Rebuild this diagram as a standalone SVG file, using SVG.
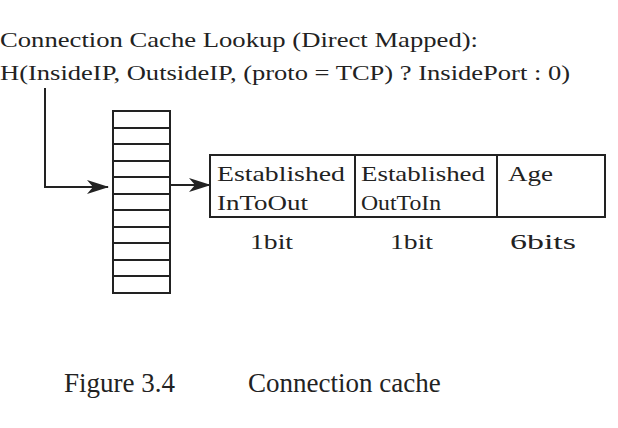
<svg xmlns="http://www.w3.org/2000/svg" width="618" height="428" viewBox="0 0 618 428">
<defs><marker id="ah" markerWidth="22" markerHeight="14" refX="21" refY="7" orient="auto" markerUnits="userSpaceOnUse"><path d="M0,0 L22,7 L0,14 L6,7 Z" fill="#222"/></marker>
<style>text{font-family:"Liberation Serif",serif;fill:#222;font-size:22px}.l{stroke:#222;stroke-width:2;fill:none}.c{font-size:27px}</style></defs>
<rect width="618" height="428" fill="#fff"/>
<text x="0" y="47" textLength="478" lengthAdjust="spacingAndGlyphs">Connection Cache Lookup (Direct Mapped):</text>
<text x="0" y="80" textLength="570" lengthAdjust="spacingAndGlyphs">H(InsideIP, OutsideIP, (proto = TCP) ? InsidePort : 0)</text>
<g id="table"><rect class="l" x="113" y="111" width="57" height="182"/>
<path class="l" d="M113,128H170M113,144H170M113,161H170M113,177H170M113,194H170M113,210H170M113,227H170M113,243H170M113,260H170M113,276H170"/></g>
<g id="connectors"><path class="l" d="M45,88V187H108" marker-end="url(#ah)"/><path class="l" d="M170,185H210" marker-end="url(#ah)"/></g>
<g id="record"><rect class="l" x="210" y="155" width="395" height="62"/><path class="l" d="M355,155V217M497,155V217"/>
<text x="217" y="181" textLength="128" lengthAdjust="spacingAndGlyphs">Established</text><text x="217" y="210" textLength="91" lengthAdjust="spacingAndGlyphs">InToOut</text>
<text x="361" y="181" textLength="124" lengthAdjust="spacingAndGlyphs">Established</text><text x="361" y="210" textLength="80" lengthAdjust="spacingAndGlyphs">OutToIn</text>
<text x="508" y="181" textLength="45" lengthAdjust="spacingAndGlyphs">Age</text>
<text x="250" y="249" textLength="43" lengthAdjust="spacingAndGlyphs">1bit</text><text x="390" y="249" textLength="43" lengthAdjust="spacingAndGlyphs">1bit</text><text x="510" y="249" textLength="66" lengthAdjust="spacingAndGlyphs">6bits</text></g>
<text class="c" x="64" y="392">Figure 3.4</text><text class="c" x="248" y="392">Connection cache</text>
</svg>
